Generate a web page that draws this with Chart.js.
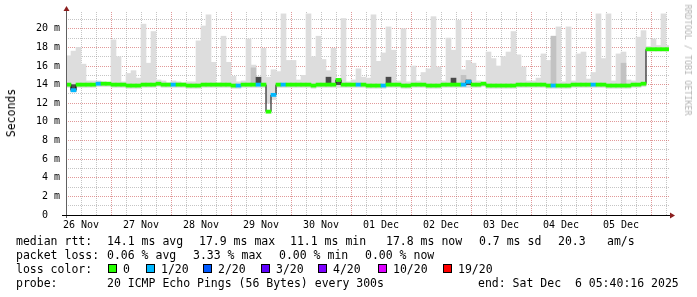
<!DOCTYPE html>
<html>
<head>
<meta charset="utf-8">
<script src="https://cdn.jsdelivr.net/npm/chart.js@4"></script>
<style>
  html, body { margin: 0; padding: 0; background: #fff; }
  #wrap { position: relative; width: 697px; height: 297px; overflow: hidden; }
  #chart { position: absolute; left: 0; top: 0; }
  .t { position: absolute; font-family: "DejaVu Sans Mono", monospace; font-size: 11.5px;
       line-height: 14px; color: #000; white-space: pre; }
  .box { position: absolute; width: 7px; height: 7px; border: 1px solid #000; }
  #ylab { position: absolute; left: 11px; top: 113px; transform: translate(-50%, -50%) rotate(-90deg);
          font-family: "DejaVu Sans Mono", monospace; font-size: 11.5px; white-space: pre; }
  #mark { position: absolute; left: 688px; top: 60px; transform: translate(-50%, -50%) rotate(90deg);
          font-family: "DejaVu Sans Mono", monospace; font-size: 8.4px; color: #b4b4b4; white-space: pre; }
</style>
</head>
<body>
<div id="wrap">
  <canvas id="chart" width="697" height="297"></canvas>
  <div id="ylab">Seconds</div>
  <div id="mark">RRDTOOL / TOBI OETIKER</div>
</div>
<script>
/* ==========================================
   DATA  (one value per 2 hour bin, 26 Nov 06:00 -> 06 Dec 07:00)
========================================== */

const days = ["26 Nov","27 Nov","28 Nov","29 Nov","30 Nov","01 Dec","02 Dec","03 Dec","04 Dec","05 Dec"];

// median rtt, ms
const median = [
14.0,13.4,14.0,14.0,14.0,14.0,14.1,14.1,14.1,14.0,
14.0,14.0,13.9,13.9,13.9,14.0,14.0,14.0,14.1,14.0,
14.0,14.0,14.0,14.0,13.9,13.9,13.9,14.0,14.0,14.0,
14.0,14.0,14.0,13.9,13.9,14.0,14.0,14.0,14.0,14.0,
11.1,12.9,14.0,14.0,14.0,14.0,14.0,14.0,14.0,13.9,
14.0,14.0,14.0,14.0,14.5,14.0,14.0,14.0,14.0,14.0,
13.9,13.9,13.9,13.9,14.0,14.0,14.0,13.9,13.9,14.0,
14.0,14.0,13.9,13.9,13.9,14.0,14.0,14.0,14.0,14.0,
14.3,14.0,14.0,14.1,13.9,13.9,13.9,13.9,13.9,13.9,
14.0,14.0,14.0,14.0,14.0,14.0,13.9,13.9,13.9,13.9,
13.9,14.0,14.0,14.0,14.0,14.0,14.0,14.0,13.9,13.9,
13.9,13.9,13.9,14.0,14.0,14.1,17.8,17.8,17.8,17.8,
17.8
];

// lost pings out of 20
const loss = [
0,1,0,0,0,0,1,0,0,0,
0,0,0,0,0,0,0,0,0,0,
0,1,0,0,0,0,0,0,0,0,
0,0,0,0,1,0,0,0,1,0,
0,1,0,1,0,0,0,0,0,0,
0,0,0,0,0,0,0,0,1,0,
0,0,0,1,0,0,0,0,0,0,
0,0,0,0,0,0,0,0,0,1,
1,0,0,0,0,0,0,0,0,0,
0,0,0,0,0,0,0,1,0,0,
0,0,0,0,0,1,0,0,0,0,
0,0,0,0,0,0,0,0,0,0,
0
];

// smoke (min .. max of the 20 pings), ms
const smokeLow = [
13.7,13.2,13.7,13.7,13.7,13.7,13.8,13.8,13.8,13.7,
13.7,13.7,13.6,13.6,13.6,13.7,13.7,13.7,13.8,13.7,
13.7,13.7,13.7,13.7,13.6,13.6,13.6,13.7,13.7,13.7,
13.7,13.7,13.7,13.6,13.6,13.7,13.7,13.7,13.7,13.7,
12.0,12.4,13.7,13.7,13.7,13.7,13.7,13.7,13.7,13.6,
13.7,13.7,13.7,13.7,13.7,13.7,13.7,13.7,13.7,13.7,
13.6,13.6,13.6,13.6,13.7,13.7,13.7,13.6,13.6,13.7,
13.7,13.7,13.6,13.6,13.6,13.7,13.7,13.7,13.7,13.7,
13.7,13.7,13.7,13.8,13.6,13.6,13.6,13.6,13.6,13.6,
13.7,13.7,13.7,13.7,13.7,13.7,13.6,13.6,13.6,13.6,
13.6,13.7,13.7,13.7,13.7,13.7,13.7,13.7,13.6,13.6,
13.6,13.6,13.6,13.7,13.7,13.8,17.6,17.6,17.6,17.6,
17.6
];

const smokeHigh = [
17.1,17.6,18.0,16.2,14.4,14.4,14.4,14.3,14.2,18.8,
17.0,14.3,15.2,15.5,14.7,20.5,16.3,19.7,14.5,14.4,
14.2,14.4,14.3,14.2,14.3,14.3,18.7,20.3,21.5,16.4,
14.2,19.2,16.4,14.9,14.3,14.4,18.9,16.1,14.8,17.9,
14.8,15.6,15.4,21.6,16.6,16.6,14.5,15.0,21.6,17.0,
19.2,16.7,15.5,17.9,14.6,21.1,14.3,14.5,15.7,14.8,
14.7,21.5,16.5,17.4,20.2,17.7,14.4,20.0,14.3,16.0,
14.4,15.3,15.7,21.3,15.9,14.4,19.0,17.7,20.9,15.6,
16.6,16.3,14.4,14.3,17.5,16.8,16.0,17.0,17.5,19.7,
17.2,15.9,14.4,14.4,14.7,17.3,16.6,19.2,20.2,14.3,
20.2,14.4,17.3,17.5,14.6,15.3,21.6,16.8,21.6,14.4,
17.3,17.5,14.5,14.4,19.1,19.8,18.1,18.9,18.2,21.6,
18.2
];

// darker smoke where most pings sit (bin index -> [low, high])
const midSmoke = { 37:[14.2,15.8], 79:[14.0,15.0], 97:[14.0,19.2], 111:[14.0,16.3] };
const darkSmoke = { 1:[13.3,14.0], 38:[14.0,14.8], 52:[14.0,14.8], 54:[14.0,14.6],
                    64:[14.0,14.8], 77:[14.0,14.7], 80:[14.0,14.5] };

const lossColors = ["#26ff00","#00b8ff","#0059ff","#5e00ff","#7e00ff","#dd00ff","#ff0000"];
const lossLabels = ["0","1/20","2/20","3/20","4/20","10/20","19/20"];


/* ==========================================
   CHART
========================================== */

const startHour = 6, binHours = 2;
const hours = median.map((_, i) => startHour + binHours * i + binHours / 2);
const pick = obj => median.map((_, i) => obj[i] || null);

const gridRed = "rgba(200,70,70,0.55)";
const gridGray = "rgba(140,140,140,0.5)";
const tickFont = { family: "DejaVu Sans Mono", size: 10 };

const barBase = { type: "bar", grouped: false, barPercentage: 1, categoryPercentage: 1, borderWidth: 0 };

const axisArrows = {
  id: "axisArrows",
  afterDraw(chart) {
    const { ctx, chartArea: a } = chart;
    ctx.save();
    ctx.lineWidth = 1;
    ctx.strokeStyle = "#606060";
    ctx.beginPath(); ctx.moveTo(a.left + 0.5, a.bottom + 3); ctx.lineTo(a.left + 0.5, a.top - 2); ctx.stroke();
    ctx.strokeStyle = "#000";
    ctx.beginPath(); ctx.moveTo(a.left - 4, a.bottom + 0.5); ctx.lineTo(a.right + 2, a.bottom + 0.5); ctx.stroke();
    ctx.fillStyle = "#8b1e1e";
    ctx.beginPath(); ctx.moveTo(a.left - 2.5, a.top - 1); ctx.lineTo(a.left + 3.5, a.top - 1); ctx.lineTo(a.left + 0.5, a.top - 6); ctx.fill();
    ctx.beginPath(); ctx.moveTo(a.right + 1, a.bottom - 2.5); ctx.lineTo(a.right + 1, a.bottom + 3.5); ctx.lineTo(a.right + 6, a.bottom + 0.5); ctx.fill();
    ctx.restore();
  }
};

new Chart(document.getElementById("chart"), {
  data: {
    labels: hours,
    datasets: [
      { ...barBase, data: median.map(v => [v - 0.17, v + 0.17]),
        backgroundColor: c => lossColors[loss[c.dataIndex]], order: 0 },
      { type: "line", data: median, borderColor: "#000", borderWidth: 1,
        stepped: "middle", pointRadius: 0, order: 1 },
      { ...barBase, data: pick(darkSmoke), backgroundColor: "#4a4a4a", order: 2 },
      { ...barBase, data: pick(midSmoke), backgroundColor: "#c2c2c2", order: 3 },
      { ...barBase, data: smokeLow.map((lo, i) => [lo, smokeHigh[i]]), backgroundColor: "#dddddd", order: 4 }
    ]
  },
  options: {
    responsive: false,
    animation: false,
    events: [],
    layout: { padding: { top: 12, right: 28, left: 0, bottom: 0 } },
    plugins: { legend: { display: false }, tooltip: { enabled: false } },
    scales: {
      x: {
        type: "linear", min: 6, max: 247.2, offset: false,
        afterFit(s) { s.height = 82; },
        border: { display: false, dash: [1, 1] },
        grid: { offset: false, drawTicks: false,
                color: c => c.tick.value % 24 === 0 ? gridRed : gridGray },
        ticks: { stepSize: 6, autoSkip: false, maxRotation: 0, includeBounds: false,
                 padding: 4, color: "#000", font: tickFont,
                 callback: v => v % 24 === 12 ? days[(v - 12) / 24] : "" }
      },
      y: {
        min: 0, max: 21.8,
        afterFit(s) { s.width = 66; },
        border: { display: false, dash: [1, 1] },
        grid: { drawTicks: false,
                color: c => c.tick.value % 2 === 0 ? gridRed : gridGray },
        ticks: { stepSize: 1, autoSkip: false, includeBounds: false,
                 padding: 6, color: "#000", font: tickFont,
                 callback: v => v % 2 !== 0 ? "" : (v === 0 ? "0  " : v + " m") }
      }
    }
  },
  plugins: [axisArrows]
});


/* ==========================================
   LEGEND TEXT
========================================== */

const wrap = document.getElementById("wrap");

function put(text, x, y) {
  const d = document.createElement("div");
  d.className = "t";
  d.textContent = text;
  d.style.left = x + "px";
  d.style.top = (y - 7) + "px";
  wrap.appendChild(d);
}

const rttLine = [["median rtt:",16],["14.1 ms avg",107],["17.9 ms max",199],["11.1 ms min",290],
                 ["17.8 ms now",386],["0.7 ms sd",479],["20.3",558],["am/s",607]];
const lossLine = [["packet loss:",16],["0.06 % avg",107],["3.33 % max",193],["0.00 % min",279],["0.00 % now",365]];
const probeLine = [["probe:",16],["20 ICMP Echo Pings (56 Bytes) every 300s",107],["end: Sat Dec  6 05:40:16 2025",478]];
const boxX = [108,146,203,261,318,378,443];

rttLine.forEach(([t, x]) => put(t, x, 241));
lossLine.forEach(([t, x]) => put(t, x, 255));
put("loss color:", 16, 269);
lossLabels.forEach((t, i) => {
  const b = document.createElement("div");
  b.className = "box";
  b.style.left = boxX[i] + "px";
  b.style.top = "264px";
  b.style.background = lossColors[i];
  wrap.appendChild(b);
  put(t, boxX[i] + 15, 269);
});
probeLine.forEach(([t, x]) => put(t, x, 283));
</script>
</body>
</html>
